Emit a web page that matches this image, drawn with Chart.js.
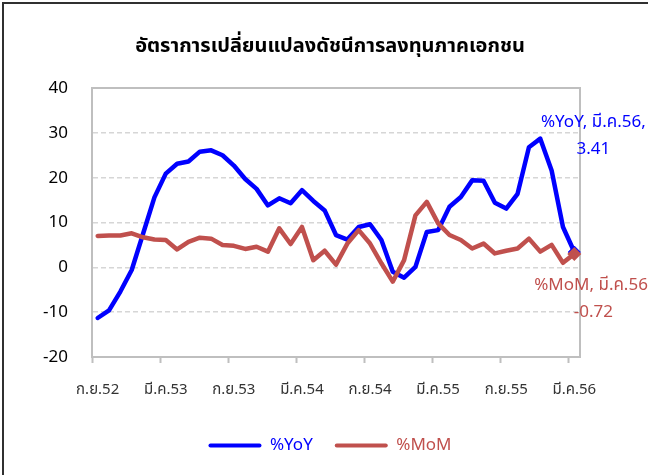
<!DOCTYPE html>
<html>
<head>
<meta charset="utf-8">
<script src="https://cdn.jsdelivr.net/npm/chart.js@4.4.0/dist/chart.umd.min.js"></script>
<style>
  html, body { margin: 0; padding: 0; background: #fff; }
  canvas { display: block; }
</style>
</head>
<body>
<canvas id="chart" width="648" height="475"></canvas>
<script>
// monthly, ก.ย.52 .. มี.ค.56
const months = [
  'ก.ย.52', 'ต.ค.52', 'พ.ย.52', 'ธ.ค.52',
  'ม.ค.53', 'ก.พ.53', 'มี.ค.53', 'เม.ย.53', 'พ.ค.53', 'มิ.ย.53', 'ก.ค.53', 'ส.ค.53', 'ก.ย.53', 'ต.ค.53', 'พ.ย.53', 'ธ.ค.53',
  'ม.ค.54', 'ก.พ.54', 'มี.ค.54', 'เม.ย.54', 'พ.ค.54', 'มิ.ย.54', 'ก.ค.54', 'ส.ค.54', 'ก.ย.54', 'ต.ค.54', 'พ.ย.54', 'ธ.ค.54',
  'ม.ค.55', 'ก.พ.55', 'มี.ค.55', 'เม.ย.55', 'พ.ค.55', 'มิ.ย.55', 'ก.ค.55', 'ส.ค.55', 'ก.ย.55', 'ต.ค.55', 'พ.ย.55', 'ธ.ค.55',
  'ม.ค.56', 'ก.พ.56', 'มี.ค.56'
];

const yoy = [-11.3, -9.6, -5.4, -0.6, 7.5, 15.6, 20.9, 23.1, 23.6, 25.8, 26.1, 25.0, 22.7, 19.7, 17.5, 13.8,
  15.4, 14.3, 17.2, 14.8, 12.7, 7.2, 6.2, 9.0, 9.6, 6.1, -1.0, -2.3, 0.1, 7.9, 8.3, 13.5,
  15.7, 19.4, 19.3, 14.4, 13.1, 16.4, 26.8, 28.7, 21.6, 9.0, 3.41];

const mom = [7.0, 7.1, 7.1, 7.6, 6.7, 6.2, 6.1, 4.0, 5.7, 6.6, 6.4, 5.0, 4.8, 4.1, 4.6, 3.5,
  8.7, 5.2, 9.0, 1.6, 3.7, 0.6, 5.3, 8.3, 5.3, 0.9, -3.2, 1.6, 11.6, 14.6, 9.8, 7.2,
  6.1, 4.2, 5.3, 3.1, 3.7, 4.2, 6.4, 3.5, 5.0, 1.0, 3.0];

const yoyNote = ['%YoY, มี.ค.56,', '3.41'];
const momNote = ['%MoM, มี.ค.56,', '-0.72'];

const BLUE = '#0000ff';
const RED = '#c0504d';
const FONT = "'Noto Sans', 'Noto Sans Thai', sans-serif";
const last = months.length - 1;

// outer frame (only left and top edges show in the picture)
const framePlugin = {
  id: 'frame',
  beforeDraw(chart) {
    const c = chart.ctx;
    c.save();
    c.fillStyle = '#fff';
    c.fillRect(0, 0, chart.width, chart.height);
    c.strokeStyle = '#303030';
    c.lineWidth = 2;
    c.beginPath();
    c.moveTo(3, chart.height + 5);
    c.lineTo(3, 3);
    c.lineTo(chart.width + 5, 3);
    c.stroke();
    c.restore();
  }
};

// box around the plot area
const plotBox = {
  id: 'plotBox',
  beforeDatasetsDraw(chart) {
    const a = chart.chartArea, c = chart.ctx;
    c.save();
    c.strokeStyle = '#bfbfbf';
    c.lineWidth = 2;
    c.strokeRect(a.left, a.top, a.right - a.left, a.bottom - a.top);
    c.restore();
  }
};

// callouts at the last point
const notes = {
  id: 'notes',
  afterDatasetsDraw(chart) {
    const c = chart.ctx;
    c.save();
    c.textAlign = 'center';
    c.textBaseline = 'middle';
    c.font = '17px ' + FONT;
    const pY = chart.getDatasetMeta(0).data[last];
    const pM = chart.getDatasetMeta(1).data[last];
    c.fillStyle = BLUE;
    c.fillText(yoyNote[0], pY.x + 19, pY.y - 130);
    c.fillText(yoyNote[1], pY.x + 19, pY.y - 103);
    c.fillStyle = RED;
    c.fillText(momNote[0], pM.x + 19, pM.y + 31);
    c.fillText(momNote[1], pM.x + 19, pM.y + 58);
    c.restore();
  }
};

const lastOnly = (r) => (ctx) => ctx.dataIndex === last ? r : 0;

new Chart(document.getElementById('chart'), {
  type: 'line',
  data: {
    labels: months,
    datasets: [
      { label: '%YoY', data: yoy, borderColor: BLUE, backgroundColor: BLUE, borderWidth: 4.5, order: 1,
        tension: 0, borderJoinStyle: 'round', borderCapStyle: 'round',
        pointStyle: 'rectRot', pointRadius: lastOnly(6), pointBorderWidth: 1, pointBorderColor: BLUE, pointBackgroundColor: BLUE },
      { label: '%MoM', data: mom, borderColor: RED, backgroundColor: RED, borderWidth: 4.5, order: 0,
        tension: 0, borderJoinStyle: 'round', borderCapStyle: 'round',
        pointStyle: 'rectRot', pointRadius: lastOnly(7), pointBorderWidth: 0, pointBackgroundColor: RED }
    ]
  },
  options: {
    responsive: false,
    animation: false,
    devicePixelRatio: 1,
    layout: { padding: { left: 12, top: 0, right: 0, bottom: 11 } },
    plugins: {
      tooltip: { enabled: false },
      title: {
        display: true,
        text: 'อัตราการเปลี่ยนแปลงดัชนีการลงทุนภาคเอกชน',
        color: '#000',
        font: { family: FONT, size: 20, weight: 'bold' },
        padding: { top: 34, bottom: 30 }
      },
      legend: {
        position: 'bottom',
        labels: {
          boxWidth: 53,
          boxHeight: 4,
          padding: 22,
          useBorderRadius: true,
          borderRadius: 2,
          font: { family: FONT, size: 17 },
          generateLabels(chart) {
            return chart.data.datasets.map((ds, i) => ({
              text: ds.label,
              fillStyle: ds.borderColor,
              strokeStyle: ds.borderColor,
              lineWidth: 0,
              fontColor: ds.borderColor,
              borderRadius: 2,
              hidden: false,
              datasetIndex: i
            }));
          }
        }
      }
    },
    scales: {
      x: {
        offset: true,
        grid: {
          offset: true,
          drawOnChartArea: false,
          drawTicks: true,
          tickLength: 6,
          tickWidth: 2,
          tickColor: (c) => c.index % 6 === 0 ? '#bfbfbf' : 'rgba(0,0,0,0)'
        },
        border: { color: '#bfbfbf', width: 2 },
        ticks: {
          autoSkip: false,
          maxRotation: 0,
          padding: 18,
          color: '#333',
          font: { family: FONT, size: 15 },
          callback: (v, i) => i % 6 === 0 ? months[i] : ''
        },
        afterFit: (s) => { s.height = 58; }
      },
      y: {
        min: -20,
        max: 40,
        ticks: { stepSize: 10, padding: 24, color: '#000', font: { family: FONT, size: 17 } },
        grid: {
          drawTicks: false,
          lineWidth: 1.5,
          color: (c) => (c.tick && (c.tick.value === 40 || c.tick.value === -20)) ? 'rgba(0,0,0,0)' : '#d6d6d6'
        },
        border: { color: '#bfbfbf', width: 2, dash: [5, 3] },
        afterFit: (s) => { s.width = 80; }
      },
      y2: {
        position: 'right',
        display: true,
        grid: { display: false },
        border: { display: false },
        ticks: { display: false },
        afterFit: (s) => { s.width = 68; }
      }
    }
  },
  plugins: [framePlugin, plotBox, notes]
});
</script>
</body>
</html>
